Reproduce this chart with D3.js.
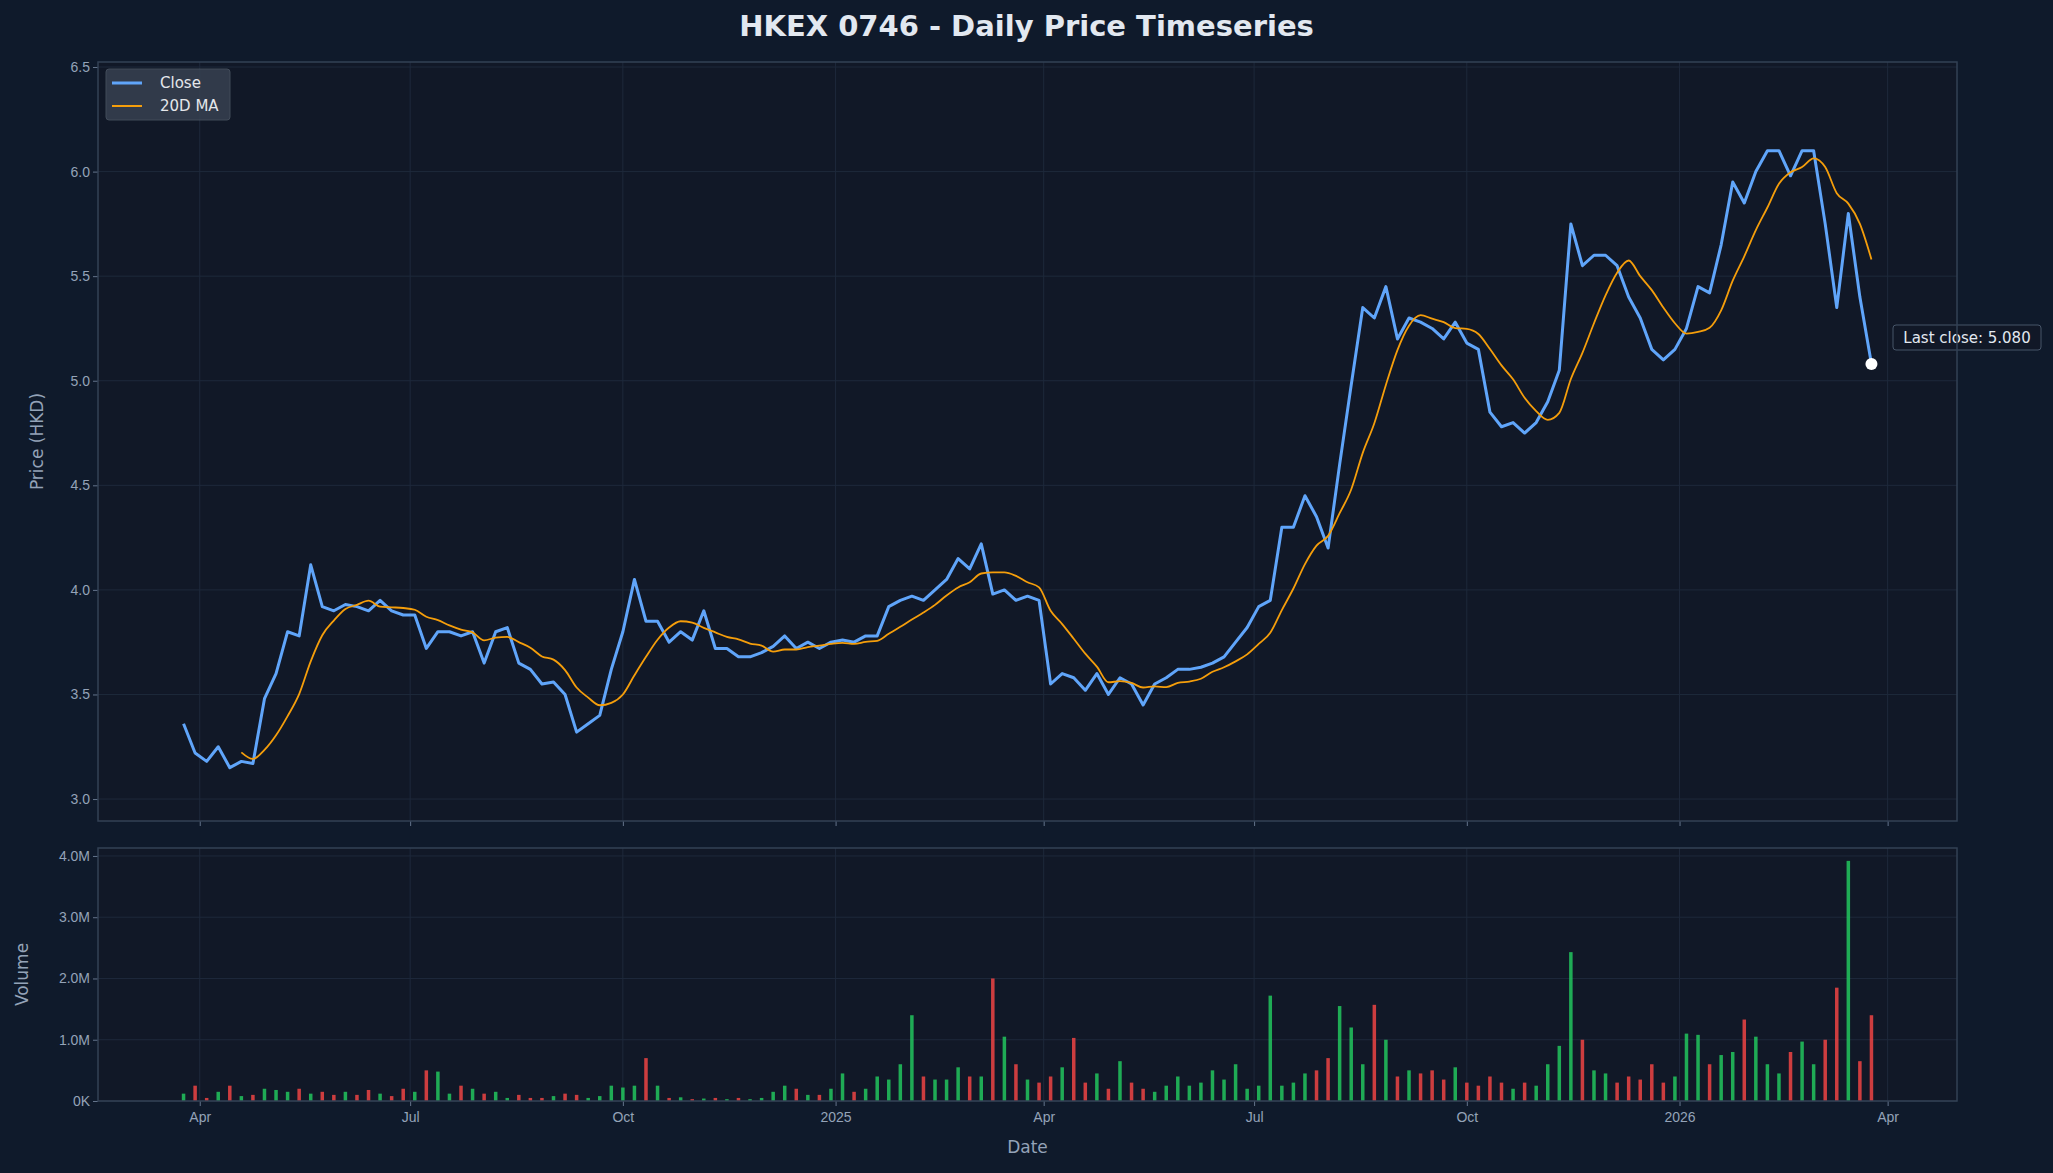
<!DOCTYPE html>
<html><head><meta charset="utf-8">
<script src="https://cdn.jsdelivr.net/npm/d3@7"></script>
<style>body{margin:0;background:#0f1a2b;}svg{display:block;font-family:"DejaVu Sans",sans-serif;}</style>
</head><body><svg id="c" width="2053" height="1173"></svg>
<script>
const startDate = "2024-03-25";
const stepDays = 5;
const closes = [3.36,3.22,3.18,3.25,3.15,3.18,3.17,3.48,3.6,3.8,3.78,4.12,3.92,3.9,3.93,3.92,3.9,3.95,3.9,3.88,3.88,
3.72,3.8,3.8,3.78,3.8,3.65,3.8,3.82,3.65,3.62,3.55,3.56,3.5,3.32,3.36,3.4,3.62,3.8,4.05,3.85,
3.85,3.75,3.8,3.76,3.9,3.72,3.72,3.68,3.68,3.7,3.73,3.78,3.72,3.75,3.72,3.75,3.76,3.75,3.78,3.78,
3.92,3.95,3.97,3.95,4.0,4.05,4.15,4.1,4.22,3.98,4.0,3.95,3.97,3.95,3.55,3.6,3.58,3.52,3.6,3.5,
3.58,3.55,3.45,3.55,3.58,3.62,3.62,3.63,3.65,3.68,3.75,3.82,3.92,3.95,4.3,4.3,4.45,4.35,4.2,4.6,
4.98,5.35,5.3,5.45,5.2,5.3,5.28,5.25,5.2,5.28,5.18,5.15,4.85,4.78,4.8,4.75,4.8,4.9,5.05,5.75,
5.55,5.6,5.6,5.55,5.4,5.3,5.15,5.1,5.15,5.25,5.45,5.42,5.65,5.95,5.85,6.0,6.1,6.1,5.98,6.1,
6.1,5.75,5.35,5.8,5.4,5.08];
const volumesM = [0.12,0.25,0.05,0.15,0.25,0.08,0.1,0.2,0.18,0.15,0.2,
0.12,0.15,0.1,0.15,0.1,0.18,0.12,0.08,0.2,0.15,
0.5,0.48,0.12,0.25,0.2,0.12,0.15,0.05,0.1,0.05,
0.05,0.08,0.12,0.1,0.05,0.08,0.25,0.22,0.25,0.7,
0.25,0.05,0.06,0.03,0.04,0.05,0.03,0.05,0.03,0.05,
0.15,0.25,0.2,0.1,0.1,0.2,0.45,0.15,0.2,0.4,
0.35,0.6,1.4,0.4,0.35,0.35,0.55,0.4,0.4,2.0,
1.05,0.6,0.35,0.3,0.4,0.55,1.03,0.3,0.45,0.2,
0.65,0.3,0.2,0.15,0.25,0.4,0.25,0.3,0.5,0.35,
0.6,0.2,0.25,1.72,0.25,0.3,0.45,0.5,0.7,1.55,
1.2,0.6,1.57,1.0,0.4,0.5,0.45,0.5,0.35,0.55,
0.3,0.25,0.4,0.3,0.2,0.3,0.25,0.6,0.9,2.43,
1.0,0.5,0.45,0.3,0.4,0.35,0.6,0.3,0.4,1.1,
1.08,0.6,0.75,0.8,1.33,1.05,0.6,0.45,0.8,0.97,
0.6,1.0,1.85,3.92,0.65,1.4];
const priceTicks = [3.0,3.5,4.0,4.5,5.0,5.5,6.0,6.5];
const volTicks = [0,1,2,3,4];
const maWindow = 6;

const svg = d3.select("#c");
const W=2053;
const L=98,R=1957,PT=62,PB=821,VT=848,VB=1101;
const t0 = d3.timeParse("%Y-%m-%d")(startDate);
const data = closes.map((c,i)=>({d:d3.timeDay.offset(t0,i*stepDays),c,v:volumesM[i]*1e6,up:i===0||c>=closes[i-1]}));
data.forEach((p,i)=>{ if(i>=maWindow-1) p.ma=d3.mean(data.slice(i-maWindow+1,i+1),q=>q.c); });

const x = d3.scaleTime().domain([new Date(2024,1,17),new Date(2026,4,1)]).range([L,R]);
const y = d3.scaleLinear().domain([2.895,6.524]).range([PB,PT]);
const yv = d3.scaleLinear().domain([0,4.13e6]).range([VB,VT]);

svg.append("rect").attr("width",W).attr("height",1173).attr("fill","#0f1a2b");
[[PT,PB],[VT,VB]].forEach(([a,b])=>svg.append("rect").attr("x",L).attr("y",a).attr("width",R-L).attr("height",b-a).attr("fill","#111827"));

const xt = d3.timeMonth.range(new Date(2024,3,1),new Date(2026,4,2),3);
const grid="#1e293b", txt="#94a3b8";
xt.forEach(t=>{
  [[PT,PB],[VT,VB]].forEach(([a,b])=>svg.append("line").attr("x1",x(t)).attr("x2",x(t)).attr("y1",a).attr("y2",b).attr("stroke",grid).attr("stroke-width",1));
});
priceTicks.forEach(v=>svg.append("line").attr("x1",L).attr("x2",R).attr("y1",y(v)).attr("y2",y(v)).attr("stroke",grid));
volTicks.forEach(v=>svg.append("line").attr("x1",L).attr("x2",R).attr("y1",yv(v*1e6)).attr("y2",yv(v*1e6)).attr("stroke",grid));

const fmtX = d=>d.getMonth()===0?d3.timeFormat("%Y")(d):d3.timeFormat("%b")(d);
function styleAxis(g){g.selectAll("path").remove();g.selectAll("line").attr("stroke","#64748b");g.selectAll("text").attr("fill",txt).style("font-size","14px");}
svg.append("g").attr("transform",`translate(0,${PB})`).call(d3.axisBottom(x).tickValues(xt).tickFormat("").tickSize(5)).call(styleAxis);
svg.append("g").attr("transform",`translate(0,${VB})`).call(d3.axisBottom(x).tickValues(xt).tickFormat(fmtX).tickSize(5).tickPadding(6)).call(styleAxis);
svg.append("g").attr("transform",`translate(${L},0)`).call(d3.axisLeft(y).tickValues(priceTicks).tickFormat(d3.format(".1f")).tickSize(5)).call(styleAxis);
svg.append("g").attr("transform",`translate(${L},0)`).call(d3.axisLeft(yv).tickValues(volTicks.map(v=>v*1e6)).tickFormat(v=>v===0?"0K":(v/1e6).toFixed(1)+"M").tickSize(5)).call(styleAxis);

svg.append("g").selectAll("rect").data(data).join("rect")
  .attr("x",d=>x(d.d)-1.75).attr("width",3.5).attr("y",d=>yv(d.v)).attr("height",d=>VB-yv(d.v))
  .attr("fill",d=>d.up?"#22c55e":"#ef4444").attr("opacity",0.85);

svg.append("path").datum(data).attr("fill","none").attr("stroke","#60a5fa").attr("stroke-width",3).attr("stroke-linejoin","round")
  .attr("d",d3.line().x(d=>x(d.d)).y(d=>y(d.c)));
svg.append("path").datum(data.filter(d=>d.ma!==undefined)).attr("fill","none").attr("stroke","#f59e0b").attr("stroke-width",1.8)
  .attr("d",d3.line().curve(d3.curveMonotoneX).x(d=>x(d.d)).y(d=>y(d.ma)));

const last=data[data.length-1];
svg.append("circle").attr("cx",x(last.d)).attr("cy",y(last.c)).attr("r",6).attr("fill","#fff");
svg.append("rect").attr("x",1893).attr("y",325).attr("width",148).attr("height",25).attr("rx",3).attr("fill","#111827").attr("stroke","#475569");
svg.append("text").attr("x",1967).attr("y",343).attr("text-anchor","middle").attr("fill","#e2e8f0").style("font-size","15px").text("Last close: "+last.c.toFixed(3));

[[PT,PB],[VT,VB]].forEach(([a,b])=>svg.append("rect").attr("x",L).attr("y",a).attr("width",R-L).attr("height",b-a).attr("fill","none").attr("stroke","#334155").attr("stroke-width",1.5));

const lg=svg.append("g").attr("transform","translate(106,69)");
lg.append("rect").attr("width",124).attr("height",51).attr("rx",3).attr("fill","#374151").attr("opacity",0.85).attr("stroke","#4b5563");
lg.append("line").attr("x1",6).attr("x2",36).attr("y1",14).attr("y2",14).attr("stroke","#60a5fa").attr("stroke-width",3);
lg.append("line").attr("x1",6).attr("x2",36).attr("y1",37).attr("y2",37).attr("stroke","#f59e0b").attr("stroke-width",2);
lg.append("text").attr("x",54).attr("y",19).attr("fill","#e5e7eb").style("font-size","15px").text("Close");
lg.append("text").attr("x",54).attr("y",42).attr("fill","#e5e7eb").style("font-size","15px").text("20D MA");

svg.append("text").attr("x",W/2).attr("y",36).attr("text-anchor","middle").attr("fill","#e2e8f0").style("font-size","29px").style("font-weight","bold").text("HKEX 0746 - Daily Price Timeseries");
svg.append("text").attr("transform",`translate(43,${(PT+PB)/2}) rotate(-90)`).attr("text-anchor","middle").attr("fill",txt).style("font-size","17px").text("Price (HKD)");
svg.append("text").attr("transform",`translate(28,${(VT+VB)/2}) rotate(-90)`).attr("text-anchor","middle").attr("fill",txt).style("font-size","17px").text("Volume");
svg.append("text").attr("x",(L+R)/2).attr("y",1153).attr("text-anchor","middle").attr("fill",txt).style("font-size","17px").text("Date");
</script></body></html>
